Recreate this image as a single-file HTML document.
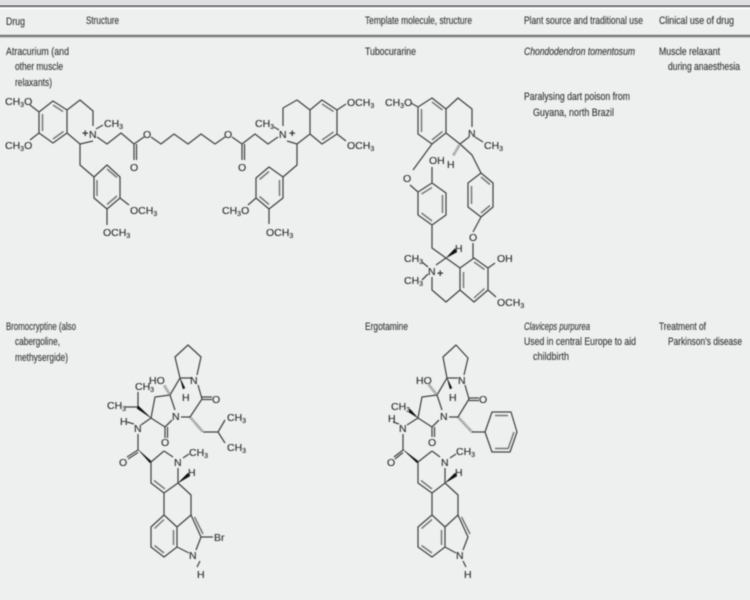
<!DOCTYPE html>
<html><head><meta charset="utf-8"><style>
html,body{margin:0;padding:0;background:#eeefef;width:750px;height:600px;overflow:hidden}
svg{display:block}
text{font-family:"Liberation Sans",sans-serif;fill:#333}
.t{font-size:10.6px;stroke:#333;stroke-width:.12}
.a{font-size:10.5px;fill:#2c2c2c;stroke:#2c2c2c;stroke-width:.12}
.s{font-size:7px}
.b{fill:none;stroke:#444;stroke-width:1.25;stroke-linejoin:round}
.d{fill:none;stroke:#777;stroke-width:1.5}
.h{fill:none;stroke:#555;stroke-width:2.8;stroke-dasharray:.8 1.2}
.w{fill:#111;stroke:#111;stroke-width:.4}
</style></head><body>
<svg width="750" height="600" viewBox="0 0 750 600" xmlns="http://www.w3.org/2000/svg">
<defs><filter id="f" x="0" y="0" width="100%" height="100%"><feGaussianBlur stdDeviation="0.42"/></filter></defs>
<rect width="750" height="600" fill="#eeefef"/>
<rect width="750" height="5" fill="#dfe0e2"/>
<rect y="5" width="750" height="2.4" fill="#8c8c8c"/>
<rect y="7.4" width="750" height="2" fill="#fafafa"/>
<rect y="34.6" width="750" height="2.4" fill="#8a8a8a"/>
<rect y="37" width="750" height="1.2" fill="#c8c8c8"/>
<g filter="url(#f)">
<!-- table text -->
<text class="t" x="6" y="25" textLength="19" lengthAdjust="spacingAndGlyphs">Drug</text>
<text class="t" x="86" y="24" textLength="33" lengthAdjust="spacingAndGlyphs">Structure</text>
<text class="t" x="365" y="24" textLength="107" lengthAdjust="spacingAndGlyphs">Template molecule, structure</text>
<text class="t" x="524" y="24" textLength="119" lengthAdjust="spacingAndGlyphs">Plant source and traditional use</text>
<text class="t" x="659" y="24" textLength="75" lengthAdjust="spacingAndGlyphs">Clinical use of drug</text>

<text class="t" x="6" y="55" textLength="63" lengthAdjust="spacingAndGlyphs">Atracurium (and</text>
<text class="t" x="15" y="70" textLength="48" lengthAdjust="spacingAndGlyphs">other muscle</text>
<text class="t" x="15" y="86" textLength="37" lengthAdjust="spacingAndGlyphs">relaxants)</text>
<text class="t" x="365" y="55" textLength="51" lengthAdjust="spacingAndGlyphs">Tubocurarine</text>
<text class="t" x="524" y="55" textLength="111" lengthAdjust="spacingAndGlyphs" font-style="italic">Chondodendron tomentosum</text>
<text class="t" x="659" y="55" textLength="61" lengthAdjust="spacingAndGlyphs">Muscle relaxant</text>
<text class="t" x="668" y="70" textLength="72" lengthAdjust="spacingAndGlyphs">during anaesthesia</text>
<text class="t" x="524" y="100" textLength="106" lengthAdjust="spacingAndGlyphs">Paralysing dart poison from</text>
<text class="t" x="533" y="116" textLength="81" lengthAdjust="spacingAndGlyphs">Guyana, north Brazil</text>

<text class="t" x="6" y="330" textLength="70" lengthAdjust="spacingAndGlyphs">Bromocryptine (also</text>
<text class="t" x="15" y="345" textLength="45" lengthAdjust="spacingAndGlyphs">cabergoline,</text>
<text class="t" x="15" y="361" textLength="53" lengthAdjust="spacingAndGlyphs">methysergide)</text>
<text class="t" x="365" y="330" textLength="43" lengthAdjust="spacingAndGlyphs">Ergotamine</text>
<text class="t" x="524" y="330" textLength="66" lengthAdjust="spacingAndGlyphs" font-style="italic">Claviceps purpurea</text>
<text class="t" x="524" y="345" textLength="112" lengthAdjust="spacingAndGlyphs">Used in central Europe to aid</text>
<text class="t" x="533" y="360" textLength="36" lengthAdjust="spacingAndGlyphs">childbirth</text>
<text class="t" x="659" y="330" textLength="47" lengthAdjust="spacingAndGlyphs">Treatment of</text>
<text class="t" x="668" y="345" textLength="74" lengthAdjust="spacingAndGlyphs">Parkinson's disease</text>

<!-- Atracurium -->
<path class="b" d="M53 101L67 110V133L53 143L39 133V112ZM67 110L80 100L93 111V126M93 141L80 144L67 133M39 112L30 105M39 133L30 140M96 129L103 125M97 137L107 144L121 133L134 144L144 137M151 137L161 144L174 134L188 144L201 134L215 144L225 137M232 137L242 144L255 134L268 144L278 137M134 144V160M136.500 144V160M242 144V160M244.500 144V160M80 144V165L94 177L107 165L120 177V198L107 209L94 198V177M120 198L129 205M107 209V225"/>
<path class="d" d="M53 105L63 111.500M63.500 131.500L53 139M42.500 114V131"/>
<path class="d" d="M107 169L117 177.500M117 196L107 204.500M97 180V196"/>
<text class="a" x="5" y="105">CH<tspan class="s" dy="2">3</tspan><tspan dy="-2">O</tspan></text>
<text class="a" x="5" y="149">CH<tspan class="s" dy="2">3</tspan><tspan dy="-2">O</tspan></text>
<text class="a" x="89" y="138">N</text><text x="82" y="137" font-size="11" font-weight="bold" fill="#111">+</text>
<text class="a" x="104" y="127">CH<tspan class="s" dy="2">3</tspan></text>
<text class="a" x="143" y="138">O</text><text class="a" x="130" y="171">O</text>
<text class="a" x="224" y="138">O</text><text class="a" x="238" y="171">O</text>
<text class="a" x="130" y="214">OCH<tspan class="s" dy="2">3</tspan></text>
<text class="a" x="103" y="236">OCH<tspan class="s" dy="2">3</tspan></text>

<path class="b" d="M297 144L310 134V110L297 100L283 108V126M287 141L297 144M310 110L322 100L337 110V134L322 144L310 134M337 110L346 104M337 134L346 141M274 127L279 130M297 144V165L283 177L269 167L256 178V198L269 209L283 198V177M256 198L248 205M269 209V224"/>
<path class="d" d="M322 104L333.500 111.500M333.500 132L322 140M269 171.500L259.500 179.500M259.500 196.500L269 204.500M279.500 180V196"/>
<text class="a" x="279" y="138">N</text><text x="289" y="137" font-size="11" font-weight="bold" fill="#111">+</text>
<text class="a" x="255" y="127">CH<tspan class="s" dy="2">3</tspan></text>
<text class="a" x="347" y="106">OCH<tspan class="s" dy="2">3</tspan></text>
<text class="a" x="347" y="149">OCH<tspan class="s" dy="2">3</tspan></text>
<text class="a" x="222" y="214">CH<tspan class="s" dy="2">3</tspan><tspan dy="-2">O</tspan></text>
<text class="a" x="266" y="236">OCH<tspan class="s" dy="2">3</tspan></text>

<!-- Tubocurarine -->
<path class="b" d="M418 107L432 98L446 109V133L432 144L418 134ZM446 109L458 98L472 109V127M475 137L483 142M469 137L460 144L446 133M460 144L472 155L481 173L493 183V207L481 217L468 207V183L481 173M411 103L418 107M432 144L413 170M410 185L418 192L432 183L446 193V215L432 225L418 215V192M432 183V167M432 225V248L446 258M481 217L473 232M473 243V258M436 265L446 258L460 268V290L446 302L432 290V277M460 268L474 258L488 268V290L474 302L460 290M488 268L495 263M488 290L496 297M422 262L428 267M422 280L428 274"/>
<path class="d" d="M432 102L442.500 110M442.500 131.500L432 140M421.500 109V132M481 177L490 184.500M490 205.500L481 213M471.500 186V204M432 187.500L421.500 194M442.500 195V213M421.500 213L432 221M474 262L484.500 269.500M484.500 288.500L474 298M463.500 272V288"/>
<path class="h" d="M460 144L453 156" />
<path class="w" d="M446 258L455 248.500L457 252Z"/>
<text class="a" x="385" y="106">CH<tspan class="s" dy="2">3</tspan><tspan dy="-2">O</tspan></text>
<text class="a" x="468" y="137">N</text>
<text class="a" x="484" y="149">CH<tspan class="s" dy="2">3</tspan></text>
<text class="a" x="447" y="168">H</text>
<text class="a" x="429" y="164">OH</text>
<text class="a" x="403" y="182">O</text>
<text class="a" x="469" y="241">O</text>
<text class="a" x="455" y="252">H</text>
<text class="a" x="497" y="262">OH</text>
<text class="a" x="404" y="262">CH<tspan class="s" dy="2">3</tspan></text>
<text class="a" x="404" y="284">CH<tspan class="s" dy="2">3</tspan></text>
<text class="a" x="428" y="275">N</text><text x="437" y="277" font-size="11" font-weight="bold" fill="#111">+</text>
<text class="a" x="497" y="306">OCH<tspan class="s" dy="2">3</tspan></text>

<!-- Bromocriptine -->
<path class="b" d="M180 378L175 357L188 345L201 357L197 375M191 378L180 378M180 378L170 395L155 397L151 418L165 427L172 420M170 395L175 410M198 385L202 399L190 417L181 417M202 399.500H212M202 397H212M203 432H218L225 420M218 432L225 443M165 427V438M167.500 427V438M138 407V392M138 407H125M151 418L141 425M138 434V450L127 457M138 452.500L128 459M164 451L173 457M178 468V483L164 493L151 483V462L164 451M178 483L191 495V515L201 537L196 550M164 493V515L151 527V547L164 557L177 547V527L164 515M177 527L191 515M177 547L189 553M201 537H213M183 458L189 454M197 567L200 561M134 424L127 422"/>
<path class="d" d="M154 480.500L165 489M164 519.500L154.500 528.500M154.500 545.500L164 553M173.500 530V545M194.500 517L203 534"/>
<path class="w" d="M151 418L138 405.500L137 408.500ZM138 449.500L151 461L150 463ZM178 483L188 473L190 476Z"/>
<path class="w" d="M180 378L185 388L183 389Z"/>
<path class="h" d="M170 395L164 385M190 417L203 432"/>
<text class="a" x="190" y="384">N</text>
<text class="a" x="182" y="401">H</text>
<text class="a" x="212" y="403">O</text>
<text class="a" x="149" y="384">HO</text>
<text class="a" x="135" y="390">CH<tspan class="s" dy="2">3</tspan></text>
<text class="a" x="107" y="409">CH<tspan class="s" dy="2">3</tspan></text>
<text class="a" x="172" y="420">N</text>
<text class="a" x="227" y="421">CH<tspan class="s" dy="2">3</tspan></text>
<text class="a" x="227" y="451">CH<tspan class="s" dy="2">3</tspan></text>
<text class="a" x="161" y="446">O</text>
<text class="a" x="120" y="425">H</text>
<text class="a" x="134" y="432">N</text>
<text class="a" x="119" y="466">O</text>
<text class="a" x="174" y="466">N</text>
<text class="a" x="189" y="456">CH<tspan class="s" dy="2">3</tspan></text>
<text class="a" x="188" y="476">H</text>
<text class="a" x="214" y="541">Br</text>
<text class="a" x="189" y="559">N</text>
<text class="a" x="197" y="578">H</text>

<!-- Ergotamine -->
<path class="b" d="M447 378L443 357L456 345L468 358L464 375M458 378L447 378M447 378L437 395L422 397L418 418L432 427L439 420M437 395L442 410M465 385L469 399L458 417L449 417M469 400.500H479M469 398H479M472 432H485L492 412H511L517 432L510 452H492L485 432M432 427V437M434.500 427V437M418 418L407 425M403 434V450L394 457M403 452.500L395 459M432 451L440 457M445 468V483L432 493L418 483V462L432 451M445 483L458 495V515L468 537L463 550M432 493V515L418 527V547L432 557L445 547V527L432 515M445 527L458 515M445 547L456 553M450 458L456 454M466 567L463 561M399 424L393 422"/>
<path class="d" d="M421 480.500L432 489M432 519.500L421.500 528.500M421.500 545.500L432 553M441.500 530V545M461.500 517L470 534M495 415.500H508M514 432L508 449M495 448.500H508"/>
<path class="w" d="M418 418L410 409L408.500 412ZM403 449.500L418 461L417 463ZM445 483L455 473L457 476ZM447 378L452 388L450 389Z"/>
<path class="h" d="M437 395L429 385M458 417L472 432"/>
<text class="a" x="458" y="384">N</text>
<text class="a" x="449" y="401">H</text>
<text class="a" x="479" y="403">O</text>
<text class="a" x="416" y="384">HO</text>
<text class="a" x="391" y="410">CH<tspan class="s" dy="2">3</tspan></text>
<text class="a" x="440" y="420">N</text>
<text class="a" x="428" y="446">O</text>
<text class="a" x="388" y="422">H</text>
<text class="a" x="399" y="432">N</text>
<text class="a" x="387" y="466">O</text>
<text class="a" x="441" y="466">N</text>
<text class="a" x="456" y="455">CH<tspan class="s" dy="2">3</tspan></text>
<text class="a" x="455" y="476">H</text>
<text class="a" x="456" y="559">N</text>
<text class="a" x="464" y="578">H</text>
</g>
</svg>
</body></html>
